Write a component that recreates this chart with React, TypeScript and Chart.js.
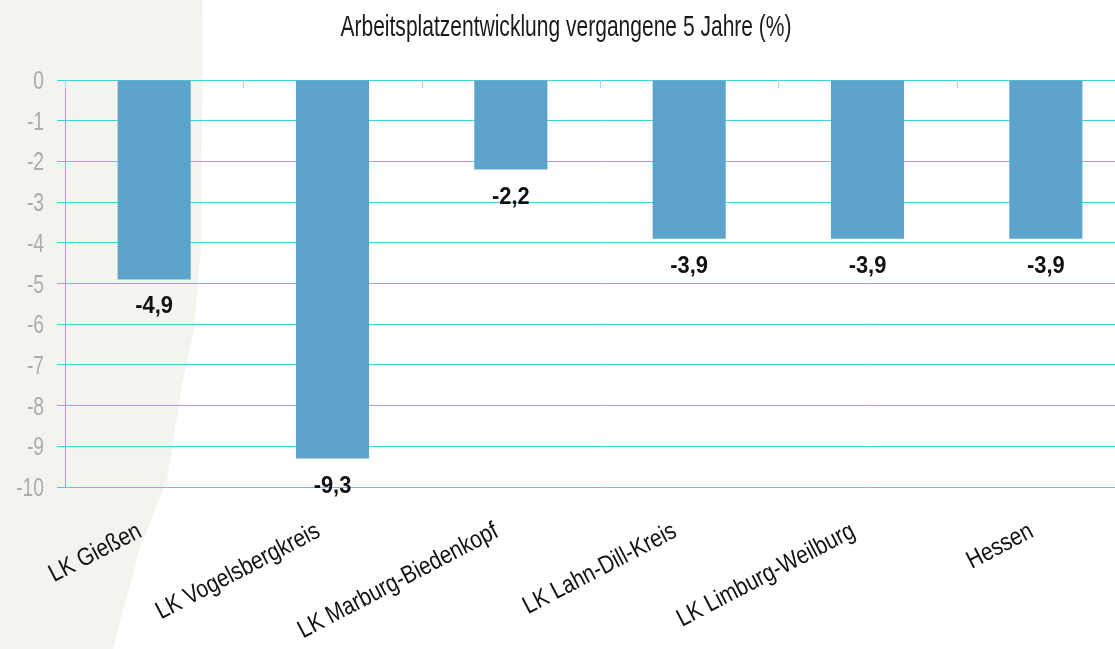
import React, { useEffect, useRef } from "react";
import { Chart, registerables } from "chart.js";

Chart.register(...registerables);

const categories = [
  "LK Gießen",
  "LK Vogelsbergkreis",
  "LK Marburg-Biedenkopf",
  "LK Lahn-Dill-Kreis",
  "LK Limburg-Weilburg",
  "Hessen",
];
const values = [-4.9, -9.3, -2.2, -3.9, -3.9, -3.9];
const yTickValues = [0, -1, -2, -3, -4, -5, -6, -7, -8, -9, -10];
const titleText = "Arbeitsplatzentwicklung vergangene 5 Jahre (%)";
const yMin = -10;
const yMax = 0;

const FONT = "'Liberation Sans', Arial, sans-serif";
const GRID = "#45d2d6";

function drawNarrow(
  ctx: CanvasRenderingContext2D,
  text: string,
  x: number,
  y: number,
  opts: { font: string; color: string; sx: number; align: CanvasTextAlign; baseline: CanvasTextBaseline; angle?: number }
) {
  ctx.save();
  ctx.translate(x, y);
  if (opts.angle) ctx.rotate(opts.angle);
  ctx.scale(opts.sx, 1);
  ctx.font = opts.font;
  ctx.fillStyle = opts.color;
  ctx.textAlign = opts.align;
  ctx.textBaseline = opts.baseline;
  ctx.fillText(text, 0, 0);
  ctx.restore();
}

const textPlugin = {
  id: "textPlugin",
  afterDraw(chart: any) {
    const ctx = chart.ctx as CanvasRenderingContext2D;
    const xs = chart.scales.x;
    const ys = chart.scales.y;
    // title
    drawNarrow(ctx, titleText, 566, 36, {
      font: `29px ${FONT}`,
      color: "#1a1a1a",
      sx: 0.725,
      align: "center",
      baseline: "alphabetic",
    });
    // y tick labels
    yTickValues.forEach((v) => {
      drawNarrow(ctx, String(v), 44, ys.getPixelForValue(v) + 9, {
        font: `26px ${FONT}`,
        color: "#ababab",
        sx: 0.74,
        align: "right",
        baseline: "alphabetic",
      });
    });
    // x labels
    categories.forEach((c, i) => {
      drawNarrow(ctx, c, xs.getPixelForValue(i) - 11, ys.bottom + 49, {
        font: `25px ${FONT}`,
        color: "#111111",
        sx: 0.84,
        align: "right",
        baseline: "alphabetic",
        angle: (-27.5 * Math.PI) / 180,
      });
    });
    // value labels
    const meta = chart.getDatasetMeta(0);
    meta.data.forEach((bar: any, i: number) => {
      const txt = values[i].toFixed(1).replace(".", ",");
      drawNarrow(ctx, txt, bar.x, bar.y + 34, {
        font: `bold 23px ${FONT}`,
        color: "#111111",
        sx: 0.95,
        align: "center",
        baseline: "alphabetic",
      });
    });
  },
};

const topTicks = {
  id: "topTicks",
  afterDraw(chart: any) {
    const ctx = chart.ctx;
    const xs = chart.scales.x;
    const ys = chart.scales.y;
    const w = xs.getPixelForValue(1) - xs.getPixelForValue(0);
    const top = ys.getPixelForValue(0);
    ctx.save();
    ctx.strokeStyle = "#8fe3e6";
    ctx.lineWidth = 1;
    for (let i = 0; i <= categories.length; i++) {
      const px = Math.round(xs.getPixelForValue(i) - w / 2) + 0.5;
      ctx.beginPath();
      ctx.moveTo(px, top);
      ctx.lineTo(px, top + 8);
      ctx.stroke();
    }
    ctx.restore();
  },
};

export default function App() {
  const ref = useRef<HTMLCanvasElement | null>(null);
  useEffect(() => {
    document.body.style.margin = "0";
    const chart = new Chart(ref.current as HTMLCanvasElement, {
      type: "bar",
      data: {
        labels: categories,
        datasets: [
          {
            data: values,
            backgroundColor: "#5ca4cc",
            categoryPercentage: 1,
            barPercentage: 0.41,
          },
        ],
      },
      options: {
        responsive: false,
        animation: false,
        layout: { padding: { top: 80, right: 5, left: 0, bottom: 0 } },
        plugins: {
          legend: { display: false },
          tooltip: { enabled: false },
          title: { display: false },
        },
        scales: {
          x: {
            grid: { display: false, drawTicks: false },
            border: { display: false },
            ticks: { display: false },
            afterFit: (s: any) => {
              s.height = 162;
            },
          },
          y: {
            min: yMin,
            max: yMax,
            grid: { color: GRID, lineWidth: 1, tickLength: 8 },
            border: { display: true, color: GRID, width: 1 },
            ticks: { stepSize: 1, display: false },
            afterFit: (s: any) => {
              s.width = 65;
            },
          },
        },
      },
      plugins: [textPlugin, topTicks],
    });
    return () => chart.destroy();
  }, []);
  return (
    <div style={{ position: "absolute", left: 0, top: 0, width: 1115, height: 649, overflow: "hidden", background: "#ffffff" }}>
      <div
        style={{
          position: "absolute",
          left: 0,
          top: 0,
          width: 210,
          height: 649,
          background: "#f4f4ef",
          clipPath:
            "polygon(0 0, 203px 0, 201px 250px, 194px 330px, 183px 380px, 167px 480px, 140px 547px, 113px 649px, 0 649px)",
        }}
      />
      <canvas ref={ref} width={1140} height={649} style={{ position: "absolute", left: 0, top: 0 }} />
    </div>
  );
}
